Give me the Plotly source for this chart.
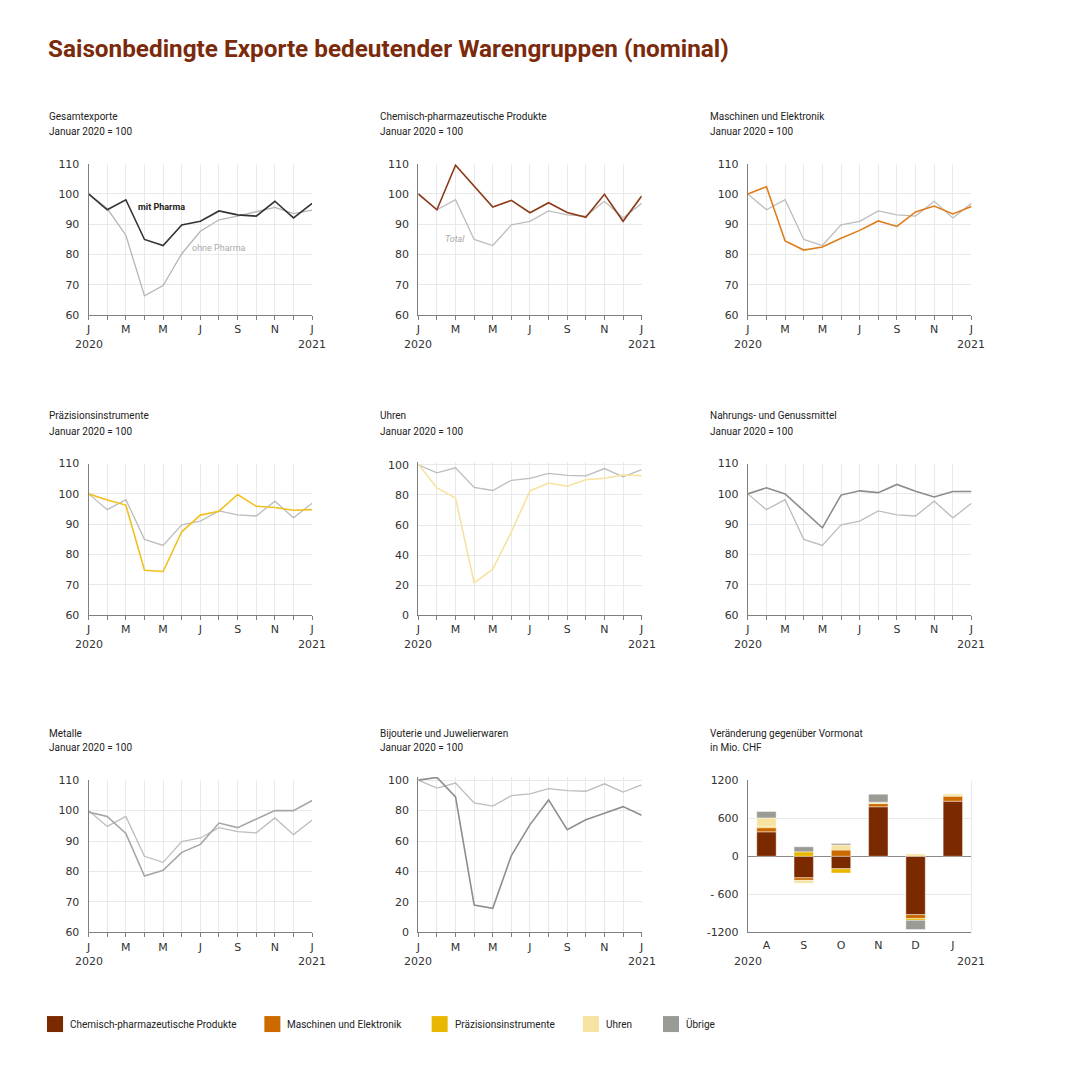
import plotly.graph_objects as go

W = H = 1080

# ---------------- data ----------------
month_ticks = ['J', '', 'M', '', 'M', '', 'J', '', 'S', '', 'N', '', 'J']
months = list(range(13))

total = [100, 94.8, 98.1, 85.0, 83.0, 89.8, 91.0, 94.4, 93.1, 92.7, 97.6, 92.1, 96.9]
ohne_pharma = [100, 95.2, 86.4, 66.4, 69.8, 80.3, 87.7, 91.5, 92.7, 94.1, 95.6, 93.5, 94.7]
chem = [100, 94.8, 109.5, 102.5, 95.7, 97.9, 93.8, 97.1, 93.9, 92.3, 99.9, 91.0, 99.3]
masch = [100, 102.4, 84.5, 81.5, 82.5, 85.4, 88.0, 91.1, 89.3, 94.1, 96.0, 93.4, 95.9]
praez = [100, 98.0, 96.3, 74.8, 74.4, 87.5, 93.0, 94.3, 99.8, 95.9, 95.5, 94.6, 94.8]
uhren = [100.5, 84.7, 78.0, 21.5, 30.6, 55.4, 82.7, 88.0, 85.8, 90.2, 91.1, 93.3, 92.9]
nahrung = [100, 102.0, 100.0, 94.3, 88.8, 99.6, 101.0, 100.4, 103.1, 100.9, 99.0, 100.8, 100.8]
metalle = [99.5, 98.1, 92.5, 78.5, 80.4, 86.3, 88.9, 95.9, 94.4, 97.2, 100.0, 100.0, 103.3]
bijou = [100, 101.8, 89.0, 18.0, 15.8, 50.5, 70.8, 87.0, 67.5, 74.0, 78.2, 82.6, 76.9]

bar_cats = ['A', 'S', 'O', 'N', 'D', 'J']
bar_chem = [385, -340, -197, 780, -920, 868]
bar_masch = [65, -40, 98, 50, -60, 78]
bar_praez = [15, 70, -68, 8, -30, 15]
bar_uhren = [140, -45, 80, 15, 35, 25]
bar_other = [100, 80, 22, 125, -145, 0]

legend_names = ['Chemisch-pharmazeutische Produkte', 'Maschinen und Elektronik',
                'Präzisionsinstrumente', 'Uhren', 'Übrige']
bar_colors = ['#7b2a00', '#cc6a00', '#e8b800', '#f6e3a1', '#9b9b96']

panel_titles = ['Gesamtexporte', 'Chemisch-pharmazeutische Produkte', 'Maschinen und Elektronik',
                'Präzisionsinstrumente', 'Uhren', 'Nahrungs- und Genussmittel',
                'Metalle', 'Bijouterie und Juwelierwaren', 'Veränderung gegenüber Vormonat']
panel_subtitles = ['Januar 2020 = 100'] * 8 + ['in Mio. CHF']

# ---------------- styling ----------------
TICKFONT = dict(family='DejaVu Sans, Liberation Sans, sans-serif', size=11, color='#333333')
NARROW = 'Roboto, sans-serif'
GRAY = '#bdbdbd'
GRID = '#e9e9e9'
AXIS = '#7f7f7f'

col_x = [(88.5, 311.7), (417.7, 640.7), (746.7, 970.0)]
row_y = [(163.3, 315.0), (463.3, 615.0), (780.0, 932.3)]
title_x = [47, 377, 707]
title_y = [(115.7, 131.0), (415.7, 431.0), (733.3, 747.3)]

# the photographed page is slightly offset/scaled; compensate so targets land on pixels
SX, BX = 0.9938, 3.05
SY, BY = 0.9883, 5.6


def px_x(p):
    return ((p - BX) / SX) / W


def px_y(p):
    return 1 - ((p - BY) / SY) / H


fig = go.Figure()

series = [
    (ohne_pharma, total, '#b5b5b5', '#333333'),
    (total, chem, GRAY, '#8b3a1a'),
    (total, masch, GRAY, '#df7d1c'),
    (total, praez, GRAY, '#f0c01e'),
    (total, uhren, GRAY, '#f8e2a0'),
    (total, nahrung, GRAY, '#8c8c8c'),
    (total, metalle, GRAY, '#a6a6a6'),
    (total, bijou, GRAY, '#8e8e8e'),
]

# (tick bottom, tick top, head-room above top tick so lines slightly above 100 are not cut)
yranges = [(60, 110, 0)] * 4 + [(0, 100, 2)] + [(60, 110, 0)] * 2 + [(0, 100, 2)]

layout = {}
annotations = []
shapes = []

for i in range(9):
    r, c = divmod(i, 3)
    n = '' if i == 0 else str(i + 1)
    xa, ya = 'x' + n, 'y' + n
    x0, x1 = col_x[c]
    y0, y1 = row_y[r]
    if i == 4:
        y0 = 464.7
    if i < 8:
        lo, hi, head = yranges[i]
        ppu = (y1 - y0) / (hi - lo)
        y0 = y0 - head * ppu
    dom_x = [px_x(x0), px_x(x1)]
    dom_y = [px_y(y1), px_y(y0)]
    if i < 8:
        a, b, ca, cb = series[i]
        fig.add_trace(go.Scatter(x=months, y=a, mode='lines', line=dict(color=ca, width=1.3),
                                 xaxis=xa, yaxis=ya, showlegend=False, hoverinfo='skip'))
        fig.add_trace(go.Scatter(x=months, y=b, mode='lines', line=dict(color=cb, width=1.6),
                                 xaxis=xa, yaxis=ya, showlegend=False, hoverinfo='skip'))
        step = 20 if hi - lo == 100 else 10
        layout['xaxis' + n] = dict(domain=dom_x, anchor=ya, range=[0, 12], tickmode='array',
                                   tickvals=months, ticktext=month_ticks, ticks='outside',
                                   ticklen=4, tickcolor=AXIS, showgrid=True, gridcolor=GRID,
                                   gridwidth=1, showline=True, linecolor=AXIS, linewidth=1,
                                   tickfont=TICKFONT, zeroline=False, fixedrange=True)
        layout['yaxis' + n] = dict(domain=dom_y, anchor=xa, range=[lo, hi + head],
                                   tickmode='array', tickvals=list(range(lo, hi + 1, step)),
                                   showgrid=True, gridcolor=GRID, gridwidth=1,
                                   showline=True, linecolor=AXIS, linewidth=1, ticks='',
                                   ticklabelstandoff=6, tickfont=TICKFONT, zeroline=False,
                                   fixedrange=True)
        for xv, txt in [(0, '2020'), (12, '2021')]:
            annotations.append(dict(x=xv, y=0, xref=xa, yref=ya + ' domain', text=txt,
                                    showarrow=False, xanchor='center', yanchor='top',
                                    yshift=-21, font=TICKFONT))
    else:
        traces = [bar_chem, bar_masch, bar_praez, bar_uhren, bar_other]
        for vals, col, name in zip(traces, bar_colors, legend_names):
            fig.add_trace(go.Bar(x=bar_cats, y=vals, marker=dict(color=col,
                                 line=dict(color='rgba(255,255,255,0.7)', width=0.6)),
                                 name=name, xaxis=xa, yaxis=ya, showlegend=False,
                                 hoverinfo='skip'))
        layout['xaxis' + n] = dict(domain=dom_x, anchor=ya, range=[-0.5, 5.5], ticks='',
                                   showgrid=False, showline=True, linecolor=AXIS, linewidth=1,
                                   tickfont=TICKFONT, fixedrange=True, ticklabelstandoff=2)
        layout['yaxis' + n] = dict(domain=dom_y, anchor=xa, range=[-1200, 1200],
                                   tickvals=[-1200, -600, 0, 600, 1200],
                                   ticktext=['-1200', '- 600', '0', '600', '1200'],
                                   showgrid=True, gridcolor=GRID, gridwidth=1, showline=True,
                                   linecolor=AXIS, linewidth=1, ticks='', ticklabelstandoff=6,
                                   tickfont=TICKFONT, zeroline=True, zerolinecolor='#8a8a8a',
                                   zerolinewidth=1.2, fixedrange=True)
        shapes.append(dict(type='line', xref=xa + ' domain', yref=ya + ' domain', x0=1, x1=1,
                           y0=0, y1=1, line=dict(color=GRID, width=1), layer='below'))
        annotations.append(dict(x=0, y=0, xref=xa + ' domain', yref=ya + ' domain', text='2020',
                                showarrow=False, xanchor='center', yanchor='top', yshift=-21,
                                font=TICKFONT))
        annotations.append(dict(x=1, y=0, xref=xa + ' domain', yref=ya + ' domain', text='2021',
                                showarrow=False, xanchor='center', yanchor='top', yshift=-21,
                                font=TICKFONT))
    # panel titles
    ty1, ty2 = title_y[r]
    annotations.append(dict(x=px_x(title_x[c]), y=px_y(ty1), xref='paper', yref='paper',
                            text=panel_titles[i], showarrow=False, xanchor='left',
                            yanchor='middle', font=dict(family=NARROW, size=10, color='#222222')))
    annotations.append(dict(x=px_x(title_x[c]), y=px_y(ty2), xref='paper', yref='paper',
                            text=panel_subtitles[i], showarrow=False, xanchor='left',
                            yanchor='middle', font=dict(family=NARROW, size=10, color='#222222')))

# in-chart labels
annotations.append(dict(x=2.55, y=95.6, xref='x', yref='y', text='mit Pharma', showarrow=False,
                        xanchor='left', yanchor='middle',
                        font=dict(family=NARROW, size=9, color='#222222', weight='bold')))
annotations.append(dict(x=5.45, y=82.1, xref='x', yref='y', text='ohne Pharma', showarrow=False,
                        xanchor='left', yanchor='middle',
                        font=dict(family=NARROW, size=9, color='#aaaaaa')))
annotations.append(dict(x=1.3, y=85.1, xref='x2', yref='y2', text='<i>Total</i>',
                        showarrow=False, xanchor='left', yanchor='middle',
                        font=dict(family=NARROW, size=9, color='#aaaaaa')))

# main title
annotations.append(dict(x=px_x(46), y=px_y(48), xref='paper', yref='paper',
                        text='<b>Saisonbedingte Exporte bedeutender Warengruppen (nominal)</b>',
                        showarrow=False, xanchor='left', yanchor='middle',
                        font=dict(family=NARROW, size=24.3, color='#7b2a0b')))

# legend (manual)
leg_sq = [47, 264, 431, 582, 662]
for xs, col, name in zip(leg_sq, bar_colors, legend_names):
    shapes.append(dict(type='rect', xref='paper', yref='paper', x0=px_x(xs), x1=px_x(xs + 16),
                       y0=px_y(1032), y1=px_y(1016), fillcolor=col, line=dict(width=0)))
    annotations.append(dict(x=px_x(xs + 21), y=px_y(1024), xref='paper', yref='paper', text=name,
                            showarrow=False, xanchor='left', yanchor='middle',
                            font=dict(family=NARROW, size=10, color='#222222')))

fig.update_layout(**layout)
fig.update_layout(width=W, height=H, margin=dict(l=0, r=0, t=0, b=0), paper_bgcolor='white',
                  plot_bgcolor='white', barmode='relative', bargap=0.48,
                  annotations=annotations, shapes=shapes, showlegend=False)

fig.write_html('out.html', config={'displayModeBar': False},
               post_script="document.body.style.margin='0';"
                           "document.documentElement.style.overflow='hidden';")
